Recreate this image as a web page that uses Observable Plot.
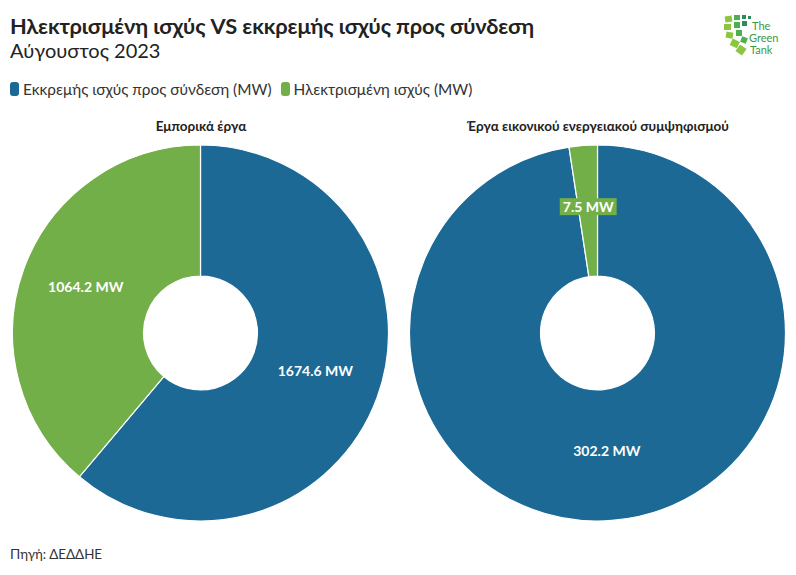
<!DOCTYPE html>
<html><head><meta charset="utf-8">
<script src="https://cdn.jsdelivr.net/npm/d3@7"></script>
<script src="https://cdn.jsdelivr.net/npm/@observablehq/plot@0.6"></script>
<style>
body{margin:0;background:#fff;font-family:Lato,"Open Sans",sans-serif;color:#222;}
#wrap{position:relative;width:796px;height:575px;overflow:hidden;}
.title{position:absolute;left:10px;top:12px;font-size:21.8px;font-weight:700;color:#222;white-space:nowrap;letter-spacing:-0.1px;}
.sub{position:absolute;left:10px;top:38px;font-size:20px;font-weight:400;color:#222;white-space:nowrap;}
.legend{position:absolute;left:10px;top:80px;font-size:15.4px;color:#333;display:flex;align-items:center;white-space:nowrap;}
.legend .item{display:flex;align-items:center;margin-right:9px;}
.legend .sw{width:9px;height:14px;border-radius:3px;margin-right:4px;}
#chart{position:absolute;left:0;top:105px;}
.foot{position:absolute;left:10px;top:546px;font-size:13.4px;color:#333;}
.logo{position:absolute;left:722px;top:12px;}
</style></head>
<body>
<div id="wrap">
  <div class="title">Ηλεκτρισμένη ισχύς VS εκκρεμής ισχύς προς σύνδεση</div>
  <div class="sub">Αύγουστος 2023</div>
  <div class="legend" id="legend"></div>
  <div id="chart"></div>
  <div class="foot">Πηγή: ΔΕΔΔΗΕ</div>
  <svg class="logo" width="60" height="46" viewBox="0 0 60 46">
    <g fill="#8cc63f">
      <rect x="3" y="4" width="7" height="6" transform="rotate(-8 6 7)"/>
      <rect x="2" y="12" width="7" height="6"/>
      <rect x="4" y="20" width="7" height="6" transform="rotate(10 7 23)"/>
      <rect x="9" y="28" width="8" height="7" transform="rotate(25 13 31)"/>
      <rect x="15" y="34" width="8" height="8" transform="rotate(35 19 38)"/>
    </g>
    <g fill="#4caf50">
      <rect x="12" y="3" width="6" height="5"/>
      <rect x="12" y="10" width="6" height="6"/>
      <rect x="14" y="18" width="6" height="6"/>
      <rect x="19" y="25" width="6" height="6" transform="rotate(20 22 28)"/>
    </g>
    <g fill="#2e8b57">
      <rect x="20" y="3" width="4" height="4"/>
      <rect x="20" y="9" width="5" height="5"/>
      <rect x="26" y="4" width="3" height="3"/>
    </g>
    <g fill="#3a9a3a" font-family="Lato,sans-serif" font-size="11">
      <text x="30" y="18">The</text>
      <text x="27" y="30">Green</text>
      <text x="28" y="42">Tank</text>
    </g>
  </svg>
</div>
<script>
const pieNames = ["Εμπορικά έργα", "Έργα εικονικού ενεργειακού συμψηφισμού"];
const seriesNames = ["Εκκρεμής ισχύς προς σύνδεση (MW)", "Ηλεκτρισμένη ισχύς (MW)"];
const pendingMW = [1674.6, 302.2];
const electrifiedMW = [1064.2, 7.5];
const seriesColors = ["#1d6996", "#73af48"];

// legend
const leg = document.getElementById("legend");
seriesNames.forEach((s, i) => {
  const it = document.createElement("div");
  it.className = "item";
  it.innerHTML = `<span class="sw" style="background:${seriesColors[i]}"></span><span>${s}</span>`;
  leg.appendChild(it);
});

const rows = pieNames.flatMap((p, i) => [
  {pie: p, series: seriesNames[0], value: pendingMW[i]},
  {pie: p, series: seriesNames[1], value: electrifiedMW[i]}
]);

const labelFont = "700 14px Lato, sans-serif";
const measureCtx = document.createElement("canvas").getContext("2d");
measureCtx.font = labelFont;
const fmt = v => d3.format(".1f")(v) + " MW";

function donuts(index, scales, values, dimensions) {
  const g = d3.create("svg:g");
  const bw = scales.x(pieNames[1]) - scales.x(pieNames[0]);
  const cy = dimensions.marginTop + (dimensions.height - dimensions.marginTop - dimensions.marginBottom) / 2;
  const outer = bw / 2 - 10.5;
  const inner = outer * 0.303;
  const arc = d3.arc().innerRadius(inner).outerRadius(outer);
  const labelArc = d3.arc().innerRadius(outer * 0.65).outerRadius(outer * 0.65);
  const pie = d3.pie().sort(null).value(d => d.value);
  for (const p of pieNames) {
    const cx = scales.x(p) + bw / 2;
    const arcs = pie(rows.filter(r => r.pie === p));
    const pg = g.append("g").attr("transform", `translate(${cx},${cy})`);
    pg.selectAll("path").data(arcs).join("path")
      .attr("d", arc)
      .attr("fill", d => scales.color(d.data.series))
      .attr("stroke", "#fff").attr("stroke-width", 1.2);
    const lg = pg.selectAll("g.lbl").data(arcs).join("g")
      .attr("class", "lbl")
      .attr("transform", d => { const [x, y] = labelArc.centroid(d); return `translate(${x},${y - 4})`; });
    lg.filter(d => (d.endAngle - d.startAngle) < 0.3)
      .append("rect")
      .attr("x", d => -measureCtx.measureText(fmt(d.data.value)).width / 2 - 3)
      .attr("width", d => measureCtx.measureText(fmt(d.data.value)).width + 6)
      .attr("y", -9).attr("height", 17)
      .attr("fill", d => scales.color(d.data.series));
    lg.append("text")
      .attr("text-anchor", "middle").attr("dy", "0.35em")
      .attr("font-family", "Lato, sans-serif").attr("font-weight", 700).attr("font-size", 14)
      .attr("fill", "#fff")
      .text(d => fmt(d.data.value));
  }
  return g.node();
}

const chart = Plot.plot({
  width: 796,
  height: 425,
  marginTop: 31,
  marginBottom: 0,
  marginLeft: 2,
  marginRight: 0,
  style: {fontFamily: "Lato, sans-serif", background: "#fff"},
  x: {type: "band", domain: pieNames, padding: 0, axis: null},
  color: {domain: seriesNames, range: seriesColors},
  marks: [
    Plot.text(pieNames, {x: d => d, text: d => d, frameAnchor: "top", dy: -15, fontWeight: 700, fontSize: 13.5, fill: "#222"}),
    donuts
  ]
});
document.getElementById("chart").appendChild(chart);
</script>
</body></html>
